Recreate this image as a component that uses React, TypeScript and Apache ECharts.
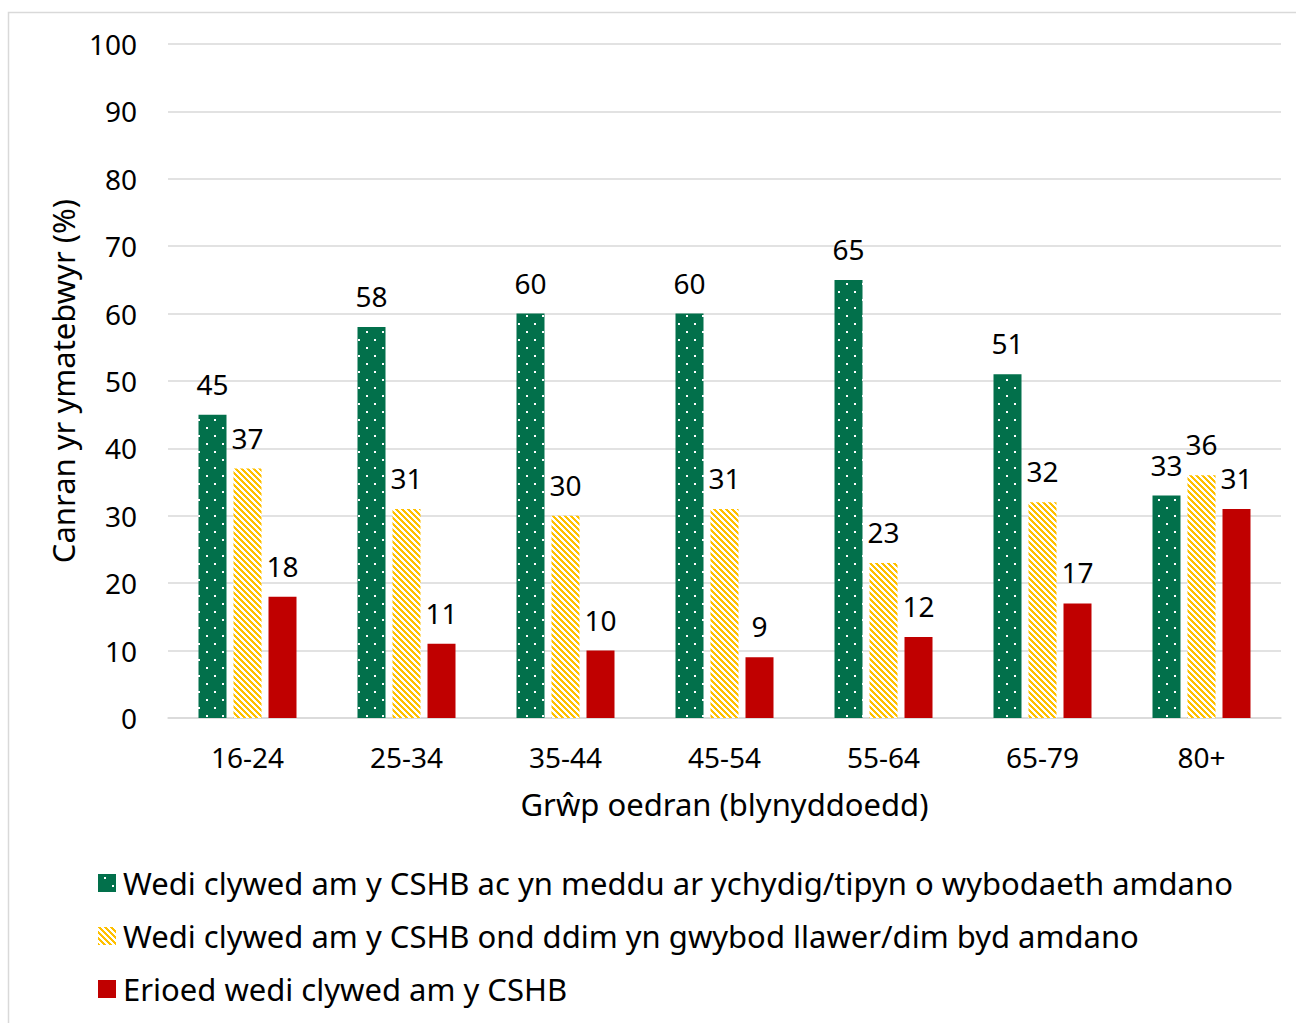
import React, { useEffect, useRef } from "react";
import * as echarts from "echarts";

const categories = ["16-24", "25-34", "35-44", "45-54", "55-64", "65-79", "80+"];
const seriesNames = [
  "Wedi clywed am y CSHB ac yn meddu ar ychydig/tipyn o wybodaeth amdano",
  "Wedi clywed am y CSHB ond ddim yn gwybod llawer/dim byd amdano",
  "Erioed wedi clywed am y CSHB",
];
const heardKnow = [45, 58, 60, 60, 65, 51, 33];
const heardNotKnow = [37, 31, 30, 31, 23, 32, 36];
const neverHeard = [18, 11, 10, 9, 12, 17, 31];
const yTicks = [0, 10, 20, 30, 40, 50, 60, 70, 80, 90, 100];

const FONT = "Noto Sans";

function dotPattern() {
  const c = document.createElement("canvas");
  c.width = 16;
  c.height = 16;
  const ctx = c.getContext("2d")!;
  ctx.fillStyle = "#02704b";
  ctx.fillRect(0, 0, 16, 16);
  ctx.fillStyle = "#ffffff";
  ctx.fillRect(6, 3, 2, 2);
  ctx.fillRect(14, 11, 2, 2);
  return c;
}

function stripePattern() {
  const n = 6;
  const c = document.createElement("canvas");
  c.width = n;
  c.height = n;
  const ctx = c.getContext("2d")!;
  ctx.fillStyle = "#ffffff";
  ctx.fillRect(0, 0, n, n);
  ctx.fillStyle = "#ffc000";
  for (let x = 0; x < n; x++) {
    for (let y = 0; y < n; y++) {
      if (((x - y) % n + n) % n < 3) ctx.fillRect(x, y, 1, 1);
    }
  }
  return c;
}

export default function App() {
  const ref = useRef<HTMLDivElement>(null);
  useEffect(() => {
    const chart = echarts.init(ref.current!, null, { renderer: "svg" });
    const green = { image: dotPattern(), repeat: "repeat" } as any;
    const yellow = { image: stripePattern(), repeat: "repeat" } as any;
    const red = "#c00000";
    const label = {
      show: true,
      position: "top",
      distance: 17,
      color: "#000",
      fontFamily: FONT,
      fontSize: 28,
    };
    const values = [heardKnow, heardNotKnow, neverHeard];
    const colors = [green, yellow, red];
    chart.setOption({
      animation: false,
      backgroundColor: "#fff",
      textStyle: { fontFamily: FONT },
      graphic: [
        {
          type: "rect",
          shape: { x: 8.5, y: 12.5, width: 1400, height: 1100 },
          style: { fill: "none", stroke: "#d9d9d9", lineWidth: 1.5 },
          silent: true,
        },
      ],
      grid: { left: 168, right: 15, top: 44, bottom: 305, containLabel: false },
      legend: {
        orient: "vertical",
        left: 98,
        top: 866,
        padding: 0,
        icon: "rect",
        itemWidth: 18,
        itemHeight: 18,
        itemGap: 19,
        textStyle: {
          fontFamily: FONT,
          fontSize: 31,
          color: "#000",
          lineHeight: 34,
          padding: [0, 0, 0, 2],
        },
        data: seriesNames,
      },
      xAxis: {
        type: "category",
        data: categories,
        axisTick: { show: false },
        axisLine: { lineStyle: { color: "#d9d9d9", width: 1.5 } },
        axisLabel: { color: "#000", fontFamily: FONT, fontSize: 28, margin: 25 },
        name: "Grŵp oedran (blynyddoedd)",
        nameLocation: "middle",
        nameGap: 70,
        nameTextStyle: { color: "#000", fontFamily: FONT, fontSize: 31 },
      },
      yAxis: {
        type: "value",
        min: yTicks[0],
        max: yTicks[yTicks.length - 1],
        interval: 10,
        axisLine: { show: false },
        axisTick: { show: false },
        splitLine: { lineStyle: { color: "#d9d9d9", width: 1.5 } },
        axisLabel: { color: "#000", fontFamily: FONT, fontSize: 28, margin: 31 },
        name: "Canran yr ymatebwyr (%)",
        nameLocation: "middle",
        nameGap: 90,
        nameTextStyle: { color: "#000", fontFamily: FONT, fontSize: 31 },
      },
      series: seriesNames.map((name, i) => ({
        name,
        type: "bar",
        data: values[i],
        barWidth: 28,
        barGap: "25%",
        itemStyle: { color: colors[i] },
        label,
      })),
    });
    return () => chart.dispose();
  }, []);
  return (
    <div
      ref={ref}
      style={{ position: "fixed", left: 0, top: 0, width: 1296, height: 1023 }}
    />
  );
}
